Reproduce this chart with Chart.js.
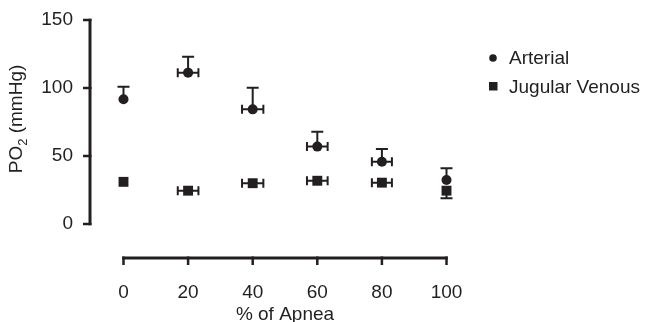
<!DOCTYPE html>
<html>
<head>
<meta charset="utf-8">
<script src="https://cdn.jsdelivr.net/npm/chart.js@4"></script>
<style>
  html, body { margin: 0; padding: 0; background: #ffffff; }
  canvas { display: block; }
</style>
</head>
<body>
<canvas id="c" width="647" height="322"></canvas>
<script>
// ---- data ----
const apnea       = [0, 20, 40, 60, 80, 100];          // % of Apnea
const apneaErr    = [0, 3.2, 3.3, 3.2, 3.1, 0];        // horizontal error
const arterial    = [91.7, 111.3, 84.3, 56.9, 45.8, 32.4];
const arterialErr = [9.3, 11.7, 15.9, 11.0, 9.3, 8.6]; // drawn upward
const venous      = [31.0, 24.5, 30.0, 31.8, 30.4, 24.5];
const venousErr   = [0, 0, 0, 0, 0, 5.6];              // drawn downward (others hidden by marker)
const xTicks = [0, 20, 40, 60, 80, 100];
const yTicks = [0, 50, 100, 150];
const seriesNames = ['Arterial', 'Jugular Venous'];
const xTitle = '% of Apnea';

const INK = '#231f20';
const FONT = '"Liberation Sans", Arial, Helvetica, sans-serif';

const errorBars = {
  id: 'errorBars',
  beforeDatasetsDraw(chart) {
    const ctx = chart.ctx, xs = chart.scales.x, ys = chart.scales.y;
    ctx.save();
    ctx.strokeStyle = INK;
    ctx.lineWidth = 2;
    const draw = (vals, errs, dir) => {
      vals.forEach((v, i) => {
        const px = xs.getPixelForValue(apnea[i]);
        const py = ys.getPixelForValue(v);
        if (errs[i] > 0) {
          const pe = ys.getPixelForValue(v + dir * errs[i]);
          ctx.beginPath();
          ctx.moveTo(px, py); ctx.lineTo(px, pe);
          ctx.moveTo(px - 6, pe); ctx.lineTo(px + 6, pe);
          ctx.stroke();
        }
        if (apneaErr[i] > 0) {
          const xl = xs.getPixelForValue(apnea[i] - apneaErr[i]);
          const xr = xs.getPixelForValue(apnea[i] + apneaErr[i]);
          ctx.beginPath();
          ctx.moveTo(xl, py); ctx.lineTo(xr, py);
          ctx.moveTo(xl, py - 4.5); ctx.lineTo(xl, py + 4.5);
          ctx.moveTo(xr, py - 4.5); ctx.lineTo(xr, py + 4.5);
          ctx.stroke();
        }
      });
    };
    draw(arterial, arterialErr, 1);
    draw(venous, venousErr, -1);
    ctx.restore();
  }
};

const axesAndText = {
  id: 'axesAndText',
  afterDraw(chart) {
    const ctx = chart.ctx, xs = chart.scales.x, ys = chart.scales.y;
    const ax = chart.chartArea.left, ay = chart.chartArea.bottom;
    ctx.save();
    ctx.strokeStyle = INK;
    ctx.fillStyle = INK;
    ctx.lineWidth = 3;
    ctx.lineCap = 'butt';
    const yTop = ys.getPixelForValue(yTicks[yTicks.length - 1]);
    const yBot = ys.getPixelForValue(yTicks[0]);
    ctx.beginPath();
    ctx.moveTo(ax, yTop - 1.25); ctx.lineTo(ax, yBot + 1.25);
    ctx.stroke();
    ctx.lineWidth = 2.5;
    yTicks.forEach(v => {
      const p = ys.getPixelForValue(v);
      ctx.beginPath(); ctx.moveTo(ax - 7, p); ctx.lineTo(ax + 1.5, p); ctx.stroke();
    });
    ctx.lineWidth = 3;
    const xL = xs.getPixelForValue(xTicks[0]);
    const xR = xs.getPixelForValue(xTicks[xTicks.length - 1]);
    ctx.beginPath();
    ctx.moveTo(xL - 1.25, ay); ctx.lineTo(xR + 1.25, ay);
    ctx.stroke();
    ctx.lineWidth = 2.5;
    xTicks.forEach(v => {
      const p = xs.getPixelForValue(v);
      ctx.beginPath(); ctx.moveTo(p, ay - 1.5); ctx.lineTo(p, ay + 7); ctx.stroke();
    });

    // x title
    ctx.font = '19px ' + FONT;
    ctx.textAlign = 'center';
    ctx.textBaseline = 'alphabetic';
    ctx.fillText(xTitle, (xL + xR) / 2, 320);

    // y title: PO2 (mmHg) with subscript
    ctx.translate(17, (yTop + yBot) / 2 - 3);
    ctx.rotate(-Math.PI / 2);
    ctx.textBaseline = 'middle';
    ctx.textAlign = 'left';
    const mainF = '19px ' + FONT, subF = '13px ' + FONT;
    ctx.font = mainF; const w1 = ctx.measureText('PO').width;
    const w3 = ctx.measureText(' (mmHg)').width;
    ctx.font = subF; const w2 = ctx.measureText('2').width;
    let sx = -(w1 + w2 + w3) / 2;
    ctx.font = mainF; ctx.fillText('PO', sx, 0);
    ctx.font = subF; ctx.fillText('2', sx + w1, 6);
    ctx.font = mainF; ctx.fillText(' (mmHg)', sx + w1 + w2, 0);
    ctx.restore();

    // legend
    ctx.save();
    ctx.fillStyle = INK;
    ctx.beginPath(); ctx.arc(493, 58, 3.8, 0, Math.PI * 2); ctx.fill();
    ctx.fillRect(489, 82, 8.5, 8.5);
    ctx.font = '19px ' + FONT;
    ctx.textBaseline = 'middle';
    ctx.textAlign = 'left';
    ctx.fillText(seriesNames[0], 509, 59);
    ctx.fillText(seriesNames[1], 509, 88);
    ctx.restore();
  }
};

new Chart(document.getElementById('c'), {
  type: 'scatter',
  data: {
    datasets: [
      {
        label: seriesNames[0],
        data: apnea.map((x, i) => ({ x, y: arterial[i] })),
        pointStyle: 'circle',
        pointRadius: 5,
        pointHoverRadius: 5,
        backgroundColor: INK,
        borderColor: INK,
        borderWidth: 0,
        clip: false
      },
      {
        label: seriesNames[1],
        data: apnea.map((x, i) => ({ x, y: venous[i] })),
        pointStyle: 'rect',
        pointRadius: 7,
        pointHoverRadius: 7,
        backgroundColor: INK,
        borderColor: INK,
        borderWidth: 0,
        clip: false
      }
    ]
  },
  options: {
    responsive: false,
    animation: false,
    events: [],
    layout: { padding: { left: 0, right: 167, top: 20, bottom: 0 } },
    plugins: { legend: { display: false }, tooltip: { enabled: false } },
    scales: {
      x: {
        type: 'linear',
        min: -10.37,
        max: 110.37,
        afterBuildTicks: axis => { axis.ticks = xTicks.map(v => ({ value: v })); },
        afterFit: scale => {
          scale.height = 64;
          scale.paddingLeft = 0; scale.paddingRight = 0;
          scale.paddingTop = 0; scale.paddingBottom = 0;
        },
        grid: { display: false, drawTicks: false },
        border: { display: false },
        ticks: { color: INK, font: { family: FONT, size: 19 }, padding: 23, maxRotation: 0 }
      },
      y: {
        type: 'linear',
        min: -25,
        max: 150,
        afterBuildTicks: axis => { axis.ticks = yTicks.map(v => ({ value: v })); },
        afterFit: scale => {
          scale.width = 90;
          scale.paddingTop = 0; scale.paddingBottom = 0;
          scale.paddingLeft = 0; scale.paddingRight = 0;
        },
        grid: { display: false, drawTicks: false },
        border: { display: false },
        ticks: { color: INK, font: { family: FONT, size: 19 }, padding: 17 }
      }
    }
  },
  plugins: [errorBars, axesAndText]
});
</script>
</body>
</html>
